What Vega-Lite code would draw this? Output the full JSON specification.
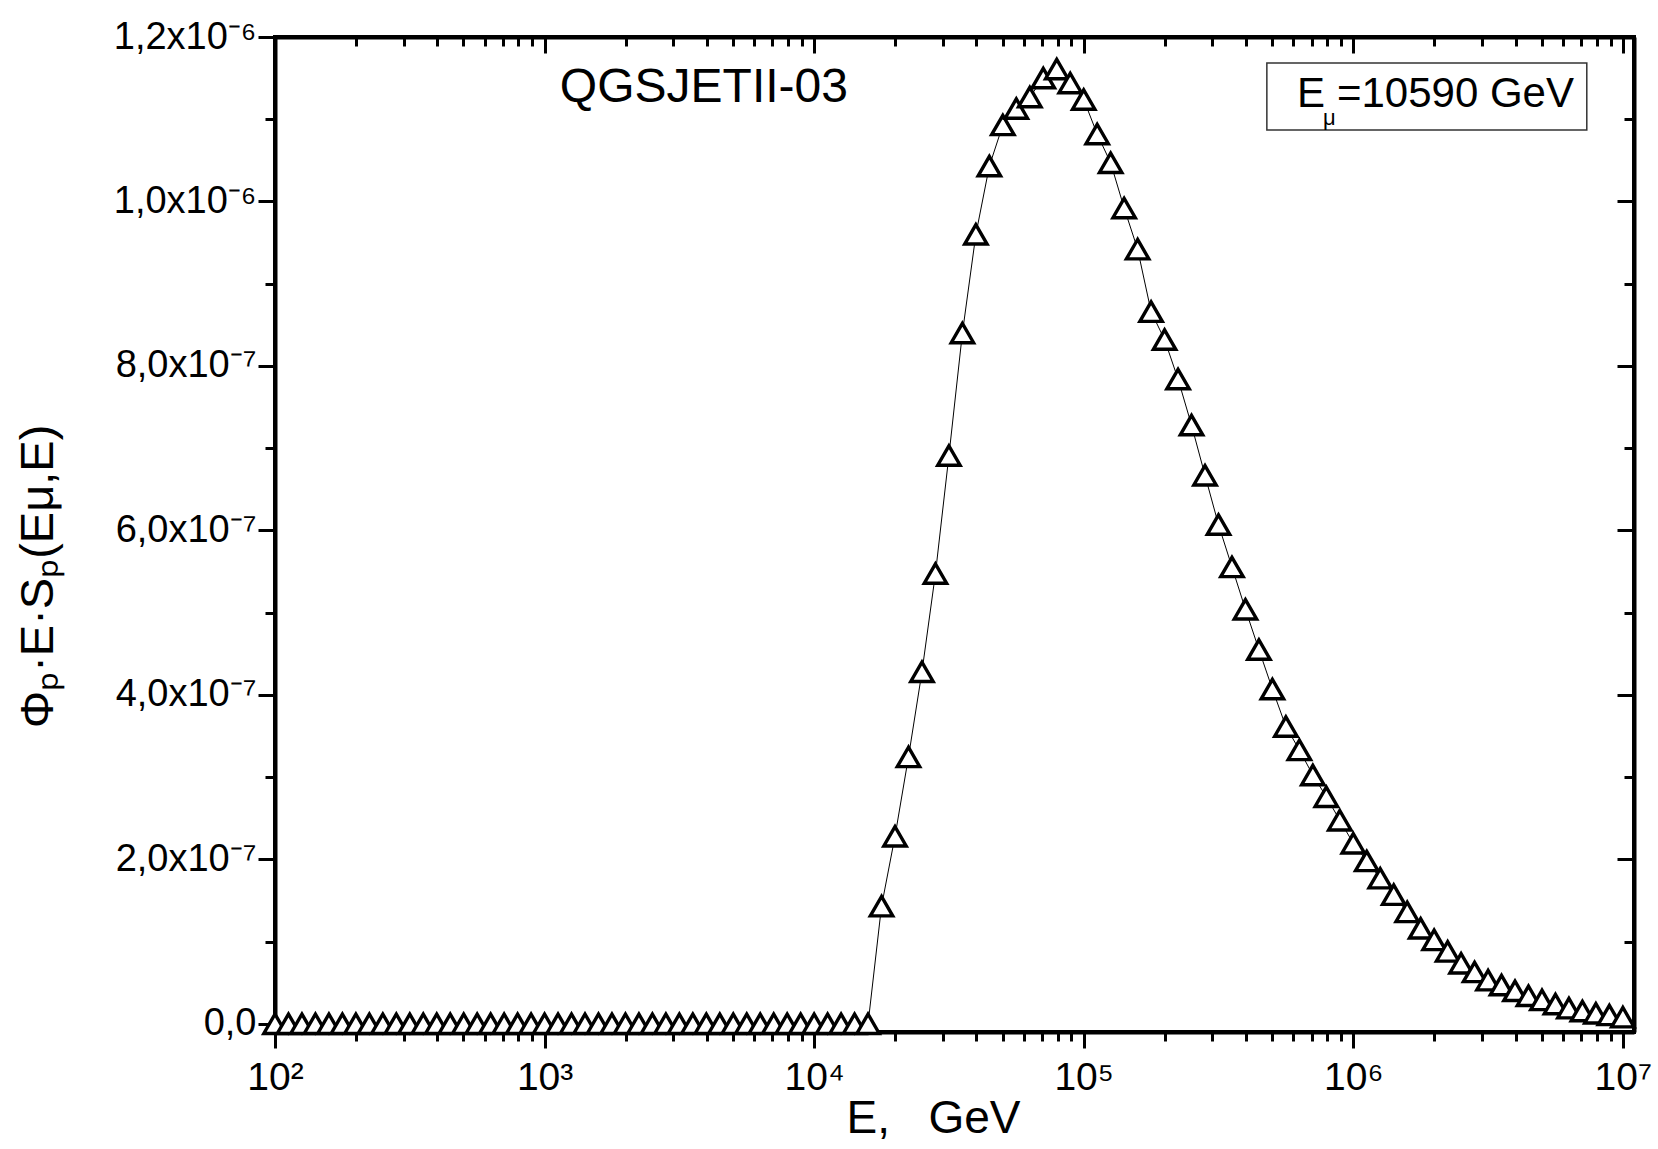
{
  "$schema": "https://vega.github.io/schema/vega-lite/v6.json",
  "width": 1359,
  "height": 995,
  "autosize": {"type": "none"},
  "padding": {"left": 275, "top": 37, "right": 24, "bottom": 117},
  "background": "white",
  "config": {"view": {"stroke": "black", "strokeWidth": 4}, "font": "Liberation Sans"},
  "datasets": {
    "curve": [
      {"E": 100, "v": 0}, {"E": 112.2, "v": 0}, {"E": 125.89, "v": 0}, {"E": 141.25, "v": 0}, {"E": 158.49, "v": 0},
      {"E": 177.83, "v": 0}, {"E": 199.53, "v": 0}, {"E": 223.87, "v": 0}, {"E": 251.19, "v": 0}, {"E": 281.84, "v": 0},
      {"E": 316.23, "v": 0}, {"E": 354.81, "v": 0}, {"E": 398.11, "v": 0}, {"E": 446.68, "v": 0}, {"E": 501.19, "v": 0},
      {"E": 562.34, "v": 0}, {"E": 630.96, "v": 0}, {"E": 707.95, "v": 0}, {"E": 794.33, "v": 0}, {"E": 891.25, "v": 0},
      {"E": 1000, "v": 0}, {"E": 1122, "v": 0}, {"E": 1258.9, "v": 0}, {"E": 1412.5, "v": 0}, {"E": 1584.9, "v": 0},
      {"E": 1778.3, "v": 0}, {"E": 1995.3, "v": 0}, {"E": 2238.7, "v": 0}, {"E": 2511.9, "v": 0}, {"E": 2818.4, "v": 0},
      {"E": 3162.3, "v": 0}, {"E": 3548.1, "v": 0}, {"E": 3981.1, "v": 0}, {"E": 4466.8, "v": 0}, {"E": 5011.9, "v": 0},
      {"E": 5623.4, "v": 0}, {"E": 6309.6, "v": 0}, {"E": 7079.5, "v": 0}, {"E": 7943.3, "v": 0}, {"E": 8912.5, "v": 0},
      {"E": 10000, "v": 0}, {"E": 11220, "v": 0}, {"E": 12589, "v": 0}, {"E": 14125, "v": 0}, {"E": 15849, "v": 0},
      {"E": 17783, "v": 1.43e-7}, {"E": 19953, "v": 2.28e-7}, {"E": 22387, "v": 3.245e-7}, {"E": 25119, "v": 4.28e-7},
      {"E": 28184, "v": 5.475e-7}, {"E": 31623, "v": 6.91e-7}, {"E": 35481, "v": 8.4e-7}, {"E": 39811, "v": 9.6e-7},
      {"E": 44668, "v": 1.043e-6}, {"E": 50119, "v": 1.093e-6}, {"E": 56234, "v": 1.113e-6}, {"E": 63096, "v": 1.127e-6},
      {"E": 70795, "v": 1.15e-6}, {"E": 79433, "v": 1.161e-6}, {"E": 89125, "v": 1.144e-6}, {"E": 100000, "v": 1.124e-6},
      {"E": 112202, "v": 1.082e-6}, {"E": 125893, "v": 1.047e-6}, {"E": 141254, "v": 9.92e-7}, {"E": 158489, "v": 9.42e-7},
      {"E": 177828, "v": 8.66e-7}, {"E": 199526, "v": 8.32e-7}, {"E": 223872, "v": 7.84e-7}, {"E": 251189, "v": 7.28e-7},
      {"E": 281838, "v": 6.67e-7}, {"E": 316228, "v": 6.07e-7}, {"E": 354813, "v": 5.555e-7}, {"E": 398107, "v": 5.04e-7},
      {"E": 446684, "v": 4.55e-7}, {"E": 501187, "v": 4.07e-7}, {"E": 562341, "v": 3.615e-7}, {"E": 630957, "v": 3.33e-7},
      {"E": 707946, "v": 3.025e-7}, {"E": 794328, "v": 2.76e-7}, {"E": 891251, "v": 2.475e-7}, {"E": 1000000, "v": 2.195e-7},
      {"E": 1122018, "v": 1.98e-7}, {"E": 1258925, "v": 1.77e-7}, {"E": 1412538, "v": 1.57e-7}, {"E": 1584893, "v": 1.36e-7},
      {"E": 1778279, "v": 1.16e-7}, {"E": 1995262, "v": 1.02e-7}, {"E": 2238721, "v": 8.8e-8}, {"E": 2511886, "v": 7.35e-8},
      {"E": 2818383, "v": 6.3e-8}, {"E": 3162278, "v": 5.3e-8}, {"E": 3548134, "v": 4.7e-8}, {"E": 3981072, "v": 4.0e-8},
      {"E": 4466836, "v": 3.4e-8}, {"E": 5011872, "v": 2.9e-8}, {"E": 5623413, "v": 2.4e-8}, {"E": 6309573, "v": 1.9e-8},
      {"E": 7079458, "v": 1.55e-8}, {"E": 7943282, "v": 1.27e-8}, {"E": 8912509, "v": 1.07e-8}, {"E": 10000000, "v": 8e-9}
    ]
  },
  "layer": [
    {
      "data": {"name": "curve"},
      "mark": {"type": "line", "color": "black", "strokeWidth": 1},
      "encoding": {
        "x": {
          "field": "E", "type": "quantitative",
          "scale": {"type": "log", "domain": [100, 11000000], "nice": false},
          "axis": {
            "orient": "bottom",
            "values": [100, 200, 300, 400, 500, 600, 700, 800, 900, 1000, 2000, 3000, 4000, 5000, 6000, 7000, 8000, 9000, 10000, 20000, 30000, 40000, 50000, 60000, 70000, 80000, 90000, 100000, 200000, 300000, 400000, 500000, 600000, 700000, 800000, 900000, 1000000, 2000000, 3000000, 4000000, 5000000, 6000000, 7000000, 8000000, 9000000, 10000000],
            "tickSize": {"condition": {"test": "abs(log(datum.value)/LN10 - round(log(datum.value)/LN10)) < 0.001", "value": 16}, "value": 9},
            "tickWidth": 3, "tickColor": "black",
            "domainWidth": 4, "domainColor": "black",
            "labelExpr": "abs(log(datum.value)/LN10 - round(log(datum.value)/LN10)) < 0.001 ? '10' + ['⁰','¹','²','³','⁴','⁵','⁶','⁷','⁸'][round(log(datum.value)/LN10)] : ''",
            "labelFont": "Liberation Sans", "labelFontSize": 39, "labelColor": "black", "labelPadding": 10,
            "labelOverlap": false, "labelFlush": false, "labelBound": false,
            "grid": false,
            "title": "E,\u00a0\u00a0\u00a0GeV", "titleFont": "Liberation Sans", "titleFontSize": 46, "titleFontWeight": "normal", "titleColor": "black",
            "titleX": 658, "titleY": 100, "titleBaseline": "alphabetic", "titleAlign": "center", "titleAnchor": null
          }
        },
        "y": {
          "field": "v", "type": "quantitative",
          "scale": {"domain": [-1e-8, 1.2e-6], "nice": false, "zero": false},
          "axis": {
            "orient": "left",
            "values": [0, 1e-7, 2e-7, 3e-7, 4e-7, 5e-7, 6e-7, 7e-7, 8e-7, 9e-7, 1e-6, 1.1e-6, 1.2e-6],
            "tickSize": {"condition": {"test": "round(datum.value*1e7) % 2 == 0", "value": 17}, "value": 10},
            "tickWidth": 3, "tickColor": "black",
            "domainWidth": 4, "domainColor": "black",
            "labelExpr": "round(datum.value*1e7) % 2 == 1 ? '' : (datum.value == 0 ? '0,0' : (datum.value > 9.9e-7 ? replace(format(datum.value*1e6, '.1f'), '.', ',') + 'x10⁻⁶' : replace(format(datum.value*1e7, '.1f'), '.', ',') + 'x10⁻⁷'))",
            "labelFont": "Liberation Sans", "labelFontSize": 38, "labelColor": "black", "labelPadding": 2,
            "labelOverlap": false, "labelFlush": false, "labelBound": false, "labelBaseline": "middle",
            "grid": false,
            "title": "Φₚ·E·Sₚ(Eμ,E)", "titleFont": "Liberation Sans", "titleFontSize": 47, "titleFontWeight": "normal", "titleColor": "black",
            "titleX": -213, "titleY": 539, "titleAngle": 270, "titleBaseline": "bottom", "titleAlign": "center", "titleAnchor": null
          }
        }
      }
    },
    {
      "data": {"name": "curve"},
      "mark": {"type": "point", "shape": "triangle-up", "size": 500, "filled": false, "fill": "white", "fillOpacity": 1, "stroke": "black", "strokeWidth": 3.4, "opacity": 1},
      "encoding": {
        "x": {
          "field": "E", "type": "quantitative",
          "axis": {
            "orient": "top",
            "values": [100, 200, 300, 400, 500, 600, 700, 800, 900, 1000, 2000, 3000, 4000, 5000, 6000, 7000, 8000, 9000, 10000, 20000, 30000, 40000, 50000, 60000, 70000, 80000, 90000, 100000, 200000, 300000, 400000, 500000, 600000, 700000, 800000, 900000, 1000000, 2000000, 3000000, 4000000, 5000000, 6000000, 7000000, 8000000, 9000000, 10000000],
            "tickSize": {"condition": {"test": "abs(log(datum.value)/LN10 - round(log(datum.value)/LN10)) < 0.001", "value": -16}, "value": -9},
            "tickWidth": 3, "tickColor": "black",
            "domainWidth": 4, "domainColor": "black",
            "labels": false, "grid": false, "title": null
          }
        },
        "y": {
          "field": "v", "type": "quantitative",
          "axis": {
            "orient": "right",
            "values": [0, 1e-7, 2e-7, 3e-7, 4e-7, 5e-7, 6e-7, 7e-7, 8e-7, 9e-7, 1e-6, 1.1e-6, 1.2e-6],
            "tickSize": {"condition": {"test": "round(datum.value*1e7) % 2 == 0", "value": -17}, "value": -10},
            "tickWidth": 3, "tickColor": "black",
            "domainWidth": 4, "domainColor": "black",
            "labels": false, "grid": false, "title": null
          }
        }
      }
    },
    {
      "data": {"values": [{"x1": 478000, "x2": 7350000, "y1": 1.0869e-6, "y2": 1.1684e-6}]},
      "mark": {"type": "rect", "fill": "white", "stroke": "#333333", "strokeWidth": 1.5},
      "encoding": {
        "x": {"field": "x1", "type": "quantitative", "axis": null},
        "x2": {"field": "x2"},
        "y": {"field": "y1", "type": "quantitative", "axis": null},
        "y2": {"field": "y2"}
      }
    },
    {
      "data": {"values": [{"x": 3900, "y": 1.121e-6, "t": "QGSJETII-03"}]},
      "mark": {"type": "text", "align": "center", "baseline": "alphabetic", "fontSize": 48, "font": "Liberation Sans", "color": "black"},
      "encoding": {
        "x": {"field": "x", "type": "quantitative", "axis": null},
        "y": {"field": "y", "type": "quantitative", "axis": null},
        "text": {"field": "t"}
      }
    },
    {
      "data": {"values": [{"x": 617800, "y": 1.1149e-6, "t": "E"}, {"x": 869600, "y": 1.1149e-6, "t": "=10590 GeV"}]},
      "mark": {"type": "text", "align": "left", "baseline": "alphabetic", "fontSize": 42, "font": "Liberation Sans", "color": "black"},
      "encoding": {
        "x": {"field": "x", "type": "quantitative", "axis": null},
        "y": {"field": "y", "type": "quantitative", "axis": null},
        "text": {"field": "t"}
      }
    },
    {
      "data": {"values": [{"x": 771500, "y": 1.093e-6, "t": "μ"}]},
      "mark": {"type": "text", "align": "left", "baseline": "alphabetic", "fontSize": 22, "font": "Liberation Sans", "color": "black"},
      "encoding": {
        "x": {"field": "x", "type": "quantitative", "axis": null},
        "y": {"field": "y", "type": "quantitative", "axis": null},
        "text": {"field": "t"}
      }
    }
  ],
  "resolve": {"axis": {"x": "independent", "y": "independent"}}
}
